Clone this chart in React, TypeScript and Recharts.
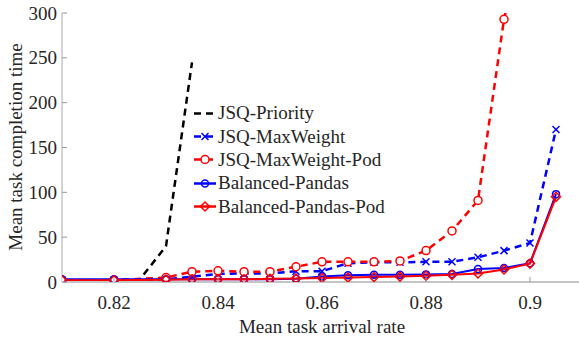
import React from "react";
import { LineChart, Line, XAxis, YAxis, Legend } from "recharts";

// Arrival rates (x) and mean completion times (y).
const rates = [0.81, 0.82, 0.83, 0.835, 0.84, 0.845, 0.85, 0.855, 0.86, 0.865, 0.87, 0.875, 0.88, 0.885, 0.89, 0.895, 0.9, 0.905];
const priorityRates = [0.81, 0.82, 0.825, 0.83, 0.835];
const podRates = [0.81, 0.82, 0.83, 0.835, 0.84, 0.845, 0.85, 0.855, 0.86, 0.865, 0.87, 0.875, 0.88, 0.885, 0.89, 0.895, 0.9];

const jsqPriority = [2, 2, 3, 40, 245];
const jsqMaxWeight = [2, 2, 3, 6, 9, 9.5, 9.5, 12, 12, 21, 22, 22, 22.5, 22.5, 27.5, 35, 43.5, 170];
const jsqMaxWeightPod = [2, 2, 5, 11.5, 12.5, 11.5, 11.5, 17, 22.5, 22.5, 22.5, 23.5, 35, 57, 91, 293, 420];
const balancedPandas = [3, 3, 3, 3, 3, 3, 3, 3.5, 6, 7.5, 8, 8, 8.5, 9, 14.5, 15.5, 21, 98];
const balancedPandasPod = [2, 2, 2.5, 3, 3, 3, 3.5, 4, 4.5, 5, 5.5, 6, 7, 8, 9.5, 14, 20.5, 95];

const xTicks = [0.82, 0.84, 0.86, 0.88, 0.9];
const yTicks = [0, 50, 100, 150, 200, 250, 300];

const FONT = '"Liberation Serif", "Times New Roman", serif';
const TEXT = "#262626";
const DASH = "7 5";

const toRows = (xs: number[], ys: number[]) => xs.map((x, i) => ({ x, y: ys[i] }));

type MarkerKind = "none" | "x" | "circleOpen" | "circle" | "diamond";

function Marker({ kind, cx, cy, color }: { kind: MarkerKind; cx: number; cy: number; color: string }) {
  if (kind === "x") {
    const s = 3.5;
    return (
      <g stroke={color} strokeWidth={1.5}>
        <line x1={cx - s} y1={cy - s} x2={cx + s} y2={cy + s} />
        <line x1={cx - s} y1={cy + s} x2={cx + s} y2={cy - s} />
      </g>
    );
  }
  if (kind === "circleOpen") return <circle cx={cx} cy={cy} r={4} fill="#fff" stroke={color} strokeWidth={1.5} />;
  if (kind === "circle") return <circle cx={cx} cy={cy} r={3.5} fill="none" stroke={color} strokeWidth={1.5} />;
  if (kind === "diamond") {
    const s = 4.5;
    return (
      <polygon
        points={`${cx},${cy - s} ${cx + s},${cy} ${cx},${cy + s} ${cx - s},${cy}`}
        fill="none"
        stroke={color}
        strokeWidth={1.5}
      />
    );
  }
  return null;
}

const series = [
  { name: "JSQ-Priority", data: toRows(priorityRates, jsqPriority), color: "#000000", dashed: true, marker: "none" as MarkerKind },
  { name: "JSQ-MaxWeight", data: toRows(rates, jsqMaxWeight), color: "#0000ff", dashed: true, marker: "x" as MarkerKind },
  { name: "JSQ-MaxWeight-Pod", data: toRows(podRates, jsqMaxWeightPod), color: "#ff0000", dashed: true, marker: "circleOpen" as MarkerKind },
  { name: "Balanced-Pandas", data: toRows(rates, balancedPandas), color: "#0000ff", dashed: false, marker: "circle" as MarkerKind },
  { name: "Balanced-Pandas-Pod", data: toRows(rates, balancedPandasPod), color: "#ff0000", dashed: false, marker: "diamond" as MarkerKind },
];

const XTick = ({ x, y, payload }: any) => (
  <g>
    <line x1={x} x2={x} y1={y} y2={y - 5} stroke="#999" />
    <text x={x} y={y + 27} textAnchor="middle" fill={TEXT} fontFamily={FONT} fontSize={19}>
      {String(payload.value)}
    </text>
  </g>
);

const YTick = ({ x, y, payload }: any) => (
  <g>
    <line x1={x} x2={x + 5} y1={y} y2={y} stroke="#999" />
    <text x={x - 5} y={y + 6.5} textAnchor="end" fill={TEXT} fontFamily={FONT} fontSize={19}>
      {String(payload.value)}
    </text>
  </g>
);

const LegendBox = () => (
  <div style={{ fontFamily: FONT, fontSize: 19, color: TEXT }}>
    {series.map((s) => (
      <div key={s.name} style={{ display: "flex", alignItems: "center", height: 23.4, whiteSpace: "nowrap" }}>
        <svg width={24} height={23} style={{ display: "block" }}>
          <line x1={0} x2={22} y1={11.5} y2={11.5} stroke={s.color} strokeWidth={2.5} strokeDasharray={s.dashed ? DASH : undefined} />
          <Marker kind={s.marker} cx={11} cy={11.5} color={s.color} />
        </svg>
        <span>{s.name}</span>
      </div>
    ))}
  </div>
);

export default function App() {
  return (
    <div style={{ position: "fixed", left: 0, top: 0, width: 579, height: 337, overflow: "hidden", background: "#fff" }}>
      <LineChart width={582} height={337} margin={{ top: 13, right: 0, bottom: 0, left: 0 }}>
        <XAxis
          type="number"
          dataKey="x"
          domain={[0.81, 0.91]}
          ticks={xTicks}
          allowDataOverflow
          height={55}
          tickSize={0}
          tickMargin={0}
          tickLine={false}
          tick={<XTick />}
          axisLine={{ stroke: "#c4c4c4", strokeWidth: 2 }}
          label={{
            content: () => (
              <text x={322} y={333} textAnchor="middle" fill={TEXT} fontFamily={FONT} fontSize={19}>
                Mean task arrival rate
              </text>
            ),
          }}
        />
        <YAxis
          type="number"
          dataKey="y"
          domain={[0, 300]}
          ticks={yTicks}
          allowDataOverflow
          width={62}
          tickSize={0}
          tickMargin={0}
          tickLine={false}
          tick={<YTick />}
          axisLine={{ stroke: "#aaaaaa" }}
          label={{
            content: () => (
              <text
                x={22}
                y={147}
                transform="rotate(-90 22 147)"
                textAnchor="middle"
                fill={TEXT}
                fontFamily={FONT}
                fontSize={19}
              >
                Mean task completion time
              </text>
            ),
          }}
        />
        <Legend
          layout="vertical"
          align="center"
          verticalAlign="middle"
          content={<LegendBox />}
          wrapperStyle={{ left: 194, top: 101.5, width: "auto", height: "auto" }}
        />
        {series.map((s) => (
          <Line
            key={s.name}
            name={s.name}
            data={s.data}
            dataKey="y"
            type="linear"
            stroke={s.color}
            strokeWidth={s.dashed ? 2.5 : 2}
            strokeDasharray={s.dashed ? DASH : undefined}
            dot={(p: any) => <Marker key={`${s.name}-${p.index}`} kind={s.marker} cx={p.cx} cy={p.cy} color={s.color} />}
            activeDot={false}
            isAnimationActive={false}
          />
        ))}
      </LineChart>
    </div>
  );
}
